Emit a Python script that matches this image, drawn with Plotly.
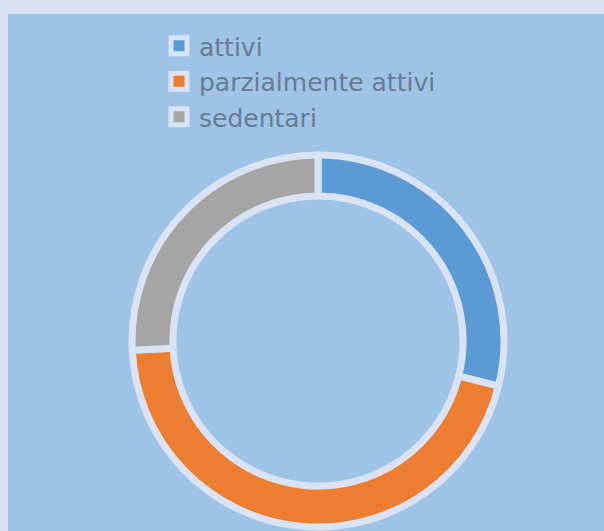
import plotly.graph_objects as go

labels = ["attivi", "parzialmente attivi", "sedentari"]
values = [28.9, 45.3, 25.8]
colors = ["#5B9BD5", "#ED7D31", "#A5A5A5"]

W, H = 604, 531
cx, cy, r = 318, 341, 186

fig = go.Figure()
fig.add_trace(go.Pie(
    labels=labels, values=values, hole=0.78, sort=False,
    direction="clockwise", rotation=0,
    marker=dict(colors=colors, line=dict(color="#DAE3F3", width=7)),
    textinfo="none", hoverinfo="label+percent", showlegend=False,
    domain=dict(x=[(cx - r) / W, (cx + r) / W],
                y=[(H - cy - r) / H, (H - cy + r) / H]),
))

# legend entries with bigger square keys
for lab, col in zip(labels, colors):
    fig.add_trace(go.Scatter(
        x=[None], y=[None], mode="markers", name=lab,
        marker=dict(symbol="square", size=16, color=col,
                    line=dict(color="#DAE3F3", width=5)),
    ))

fig.update_layout(
    width=W, height=H,
    margin=dict(l=0, r=0, t=0, b=0),
    paper_bgcolor="#DAE1F3",
    plot_bgcolor="rgba(0,0,0,0)",
    xaxis=dict(visible=False), yaxis=dict(visible=False),
    shapes=[dict(type="rect", xref="paper", yref="paper",
                 x0=8 / W, x1=1, y0=0, y1=1 - 14 / H,
                 fillcolor="#9DC3E6", line=dict(width=0), layer="below")],
    legend=dict(x=159 / W, y=1 - 23 / H, xanchor="left", yanchor="top",
                bgcolor="rgba(0,0,0,0)", tracegroupgap=0, itemwidth=30,
                font=dict(family="DejaVu Sans", size=25, color="#6B7A93")),
    showlegend=True,
)

fig.write_html("out.html", config={"displayModeBar": False},
               post_script="document.body.style.margin='0';"
                           "document.body.style.background='#DAE1F3';")
